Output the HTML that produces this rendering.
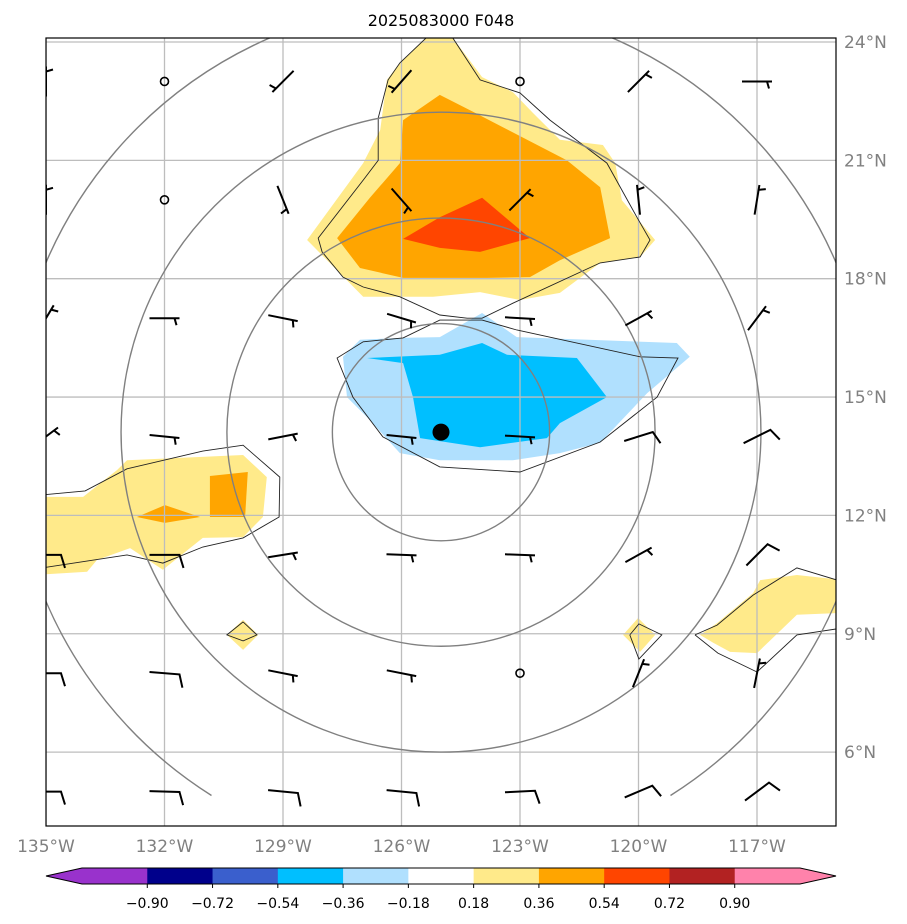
<!DOCTYPE html>
<html><head><meta charset="utf-8"><style>
html,body{margin:0;padding:0;background:#fff;}
svg{display:block;font-family:"DejaVu Sans","Liberation Sans",sans-serif;}
</style></head><body>
<svg id="chart" width="907" height="924" viewBox="0 0 907 924" xmlns="http://www.w3.org/2000/svg">
<defs><clipPath id="mapclip"><rect x="46" y="38" width="790" height="788"/></clipPath></defs>
<rect x="0" y="0" width="907" height="924" fill="#fff"/>
<text x="441" y="26" text-anchor="middle" font-size="16" fill="#000">2025083000 F048</text>
<g id="map" clip-path="url(#mapclip)"></g>
<rect x="46" y="38" width="790" height="788" fill="none" stroke="#000" stroke-width="1.2"/>
<g id="axes"></g>
<g id="cbar"></g>
</svg>
<script>
// ---- data ----
const lonTicks = [-135,-132,-129,-126,-123,-120,-117];
const lonLabels = ["135°W","132°W","129°W","126°W","123°W","120°W","117°W"];
const latTicks = [6,9,12,15,18,21,24];
const latLabels = ["6°N","9°N","12°N","15°N","18°N","21°N","24°N"];
const cbLevels = ["−0.90","−0.72","−0.54","−0.36","−0.18","0.18","0.36","0.54","0.72","0.90"];
const cbColors = ["#9932cc","#00008b","#3a5fcd","#00bfff","#b0e0fe","#ffffff","#ffea8a","#ffa500","#ff4500","#b22222","#ff82ab"];
const centerLon = -125.0, centerLat = 14.11;
const ringRadii = [2.75, 5.42, 8.1, 10.88];
const outerRingCutLat = 4.9;
const stationLons = [-135,-132,-129,-126,-123,-120,-117];
const stationLats = [23,20,17,14,11,8,5];
const windU = [
 [0,0,3.5,3.5,0,-3.5,-5],
 [0,0,-2,-3.5,-3.5,0.5,-0.8],
 [-3,-5,-5,-5,-5,-4.5,-3],
 [-4,-5,-5,-5,-5,-9.5,-9],
 [-10,-10,-5,-5,-5,-4.5,-7],
 [-10,-10,-5,-5,0,-2,-1],
 [-10,-10,-10,-10,-10,-9.5,-8]];
const windV = [
 [-5,0,3.5,4,0,-3.5,0],
 [-5,0,5,4,-3.5,-5,-5],
 [-5,0,1,1.5,0.3,-2.5,-4],
 [-3,0.5,-1,0.5,0.3,-3,-4.5],
 [0,0,-0.8,0.2,0.2,-2.5,-7],
 [0,0.8,1,1,0,-5,-5],
 [0,0.3,1,1,-0.5,-4,-6]];
const yellowTop = [[-125.35,24.13],[-124.72,24.13],[-123.96,23.11],[-123.18,22.73],[-122.67,22.2],[-121.99,21.52],[-120.9,21.39],[-120.59,20.93],[-120.42,19.99],[-119.58,18.98],[-119.96,18.55],[-120.97,18.4],[-121.99,17.64],[-123.0,17.46],[-124.01,17.66],[-125.2,17.54],[-126.97,17.54],[-128.39,18.98],[-126.97,20.93],[-126.54,21.77],[-126.37,23.04],[-126.04,23.47]];
const orangeTop = [[-125.03,22.66],[-124.19,22.23],[-121.81,21.0],[-120.97,20.32],[-120.72,19.03],[-121.99,18.47],[-122.75,18.04],[-123.84,18.02],[-125.96,18.02],[-127.05,18.27],[-127.63,19.03],[-126.8,20.05],[-126.04,20.93],[-125.96,22.02]];
const redTop = [[-125.96,19.01],[-125.03,19.56],[-123.96,20.05],[-122.75,19.03],[-124.01,18.68],[-125.03,18.78]];
const lightBlue = [[-127.05,16.45],[-126.04,16.5],[-125.03,16.52],[-123.96,17.13],[-123.08,16.52],[-119.03,16.37],[-118.7,16.02],[-119.78,15.1],[-120.97,13.84],[-121.99,13.58],[-123.18,13.4],[-125.03,13.4],[-126.04,13.58],[-126.87,14.49],[-127.38,15.0],[-127.48,16.02]];
const deepBlue = [[-126.87,15.99],[-125.03,16.07],[-123.96,16.37],[-123.33,16.07],[-121.56,15.99],[-120.8,15.0],[-121.99,14.34],[-122.32,13.96],[-124.01,13.73],[-125.53,13.96],[-125.71,15.0],[-125.96,15.86]];
const yellowLeft = [[-135.3,12.47],[-134.06,12.47],[-133.2,13.15],[-132.95,13.4],[-130.01,13.53],[-129.41,12.97],[-129.51,11.96],[-130.01,11.45],[-131.03,11.43],[-132.04,10.62],[-132.87,11.17],[-133.71,10.87],[-133.96,10.57],[-135.3,10.49]];
const orangeRect = [[-130.85,13.0],[-129.89,13.1],[-129.96,11.96],[-130.85,11.96]];
const orangeDiamond = [[-132.7,11.96],[-131.99,12.26],[-131.1,11.96],[-131.99,11.81]];
const yellowSmallL = [[-130.01,9.35],[-129.63,8.97],[-130.01,8.59],[-130.42,8.97]];
const yellowSmallR = [[-120.39,8.97],[-120.01,9.4],[-119.58,8.97],[-119.96,8.54]];
const yellowRight = [[-118.44,8.97],[-118.01,9.27],[-117.1,10.03],[-116.92,10.36],[-115.99,10.49],[-114.8,10.36],[-114.8,9.53],[-115.99,9.48],[-117.0,8.51],[-117.68,8.54],[-118.11,8.77]];
const outlineTop = [[-125.35,24.13],[-126.04,23.47],[-126.34,23.04],[-126.59,22.07],[-126.59,21.0],[-126.97,20.5],[-128.11,19.03],[-128.01,18.68],[-127.48,18.04],[-126.97,17.79],[-126.04,17.54],[-125.03,17.08],[-124.34,17.0],[-123.96,17.0],[-123.18,17.38],[-120.97,18.4],[-119.96,18.55],[-119.71,18.98],[-120.04,19.56],[-120.8,20.93],[-122.24,22.02],[-123.0,22.71],[-124.01,23.04],[-124.72,24.13]];
const outlineNeg = [[-123.96,16.95],[-123.08,16.7],[-119.96,16.02],[-119.0,15.99],[-119.53,15.0],[-120.97,13.86],[-123.0,13.1],[-125.03,13.23],[-126.47,13.99],[-127.23,15.0],[-127.63,15.99],[-126.97,16.4],[-125.96,16.5],[-125.03,16.95],[-123.96,16.95]];
const outlineLeft = [[-135.3,12.5],[-134.01,12.62],[-132.95,13.18],[-131.03,13.63],[-130.01,13.78],[-129.08,12.97],[-129.1,11.96],[-130.01,11.43],[-131.03,11.2],[-132.04,10.79],[-132.95,11.0],[-135.3,10.64]];
const outlineSmallL = [[-130.01,9.3],[-129.66,8.97],[-130.01,8.82],[-130.42,8.97],[-130.01,9.3]];
const outlineSmallR = [[-120.22,8.97],[-119.99,9.25],[-119.41,8.97],[-119.99,8.36],[-120.22,8.97]];
const outlineRightUp = [[-118.57,8.97],[-118.01,9.22],[-117.1,9.98],[-115.99,10.67],[-114.97,10.36]];
const outlineRightLow = [[-118.57,8.97],[-117.99,8.51],[-117.0,8.03],[-115.99,8.97],[-114.8,9.15]];

// ---- axis functions ----
const X = lon => 46 + (lon + 135) * 39.5;
const Y = lat => 42 + (24 - lat) * 39.45;
const NS = "http://www.w3.org/2000/svg";
function mk(tag, attrs, parent){const e=document.createElementNS(NS,tag);for(const k in attrs)e.setAttribute(k,attrs[k]);parent.appendChild(e);return e;}
const pts = arr => arr.map(p => X(p[0]).toFixed(1)+","+Y(p[1]).toFixed(1)).join(" ");
const map = document.getElementById("map");
const axes = document.getElementById("axes");
const cbar = document.getElementById("cbar");

const fills = [[yellowTop,"#ffea8a","fill-pos-018-north"],[orangeTop,"#ffa500","fill-pos-036-north"],[redTop,"#ff4500","fill-pos-054-north"],
 [lightBlue,"#b0e0fe","fill-neg-018-center"],[deepBlue,"#00bfff","fill-neg-036-center"],
 [yellowLeft,"#ffea8a","fill-pos-018-west"],[orangeRect,"#ffa500","fill-pos-036-west-a"],[orangeDiamond,"#ffa500","fill-pos-036-west-b"],
 [yellowSmallL,"#ffea8a","fill-pos-018-small-a"],[yellowSmallR,"#ffea8a","fill-pos-018-small-b"],[yellowRight,"#ffea8a","fill-pos-018-east"]];
fills.forEach(f=>{
  const e=mk("polygon",{points:pts(f[0]),fill:f[1],stroke:"none"},map);
  
  
});
lonTicks.forEach(l=>{
  const e=mk("line",{x1:X(l),x2:X(l),y1:38,y2:826,stroke:"#bdbdbd","stroke-width":1.3},map);
  
  
});
latTicks.forEach(l=>{
  const e=mk("line",{x1:46,x2:836,y1:Y(l),y2:Y(l),stroke:"#bdbdbd","stroke-width":1.3},map);
  
  
});
[outlineTop,outlineNeg,outlineLeft,outlineSmallL,outlineSmallR,outlineRightUp,outlineRightLow].forEach(o=>{
  const e=mk("polyline",{points:pts(o),fill:"none",stroke:"#222","stroke-width":0.9},map);
  
  
});
ringRadii.forEach((r,k)=>{
  const cx=X(centerLon), cy=Y(centerLat), R=r*39.5;
  let e;
  if(k===ringRadii.length-1){
    const yc=Y(outerRingCutLat), dy=yc-cy, dx=Math.sqrt(Math.max(R*R-dy*dy,0));
    e=mk("path",{d:`M${(cx+dx).toFixed(1)},${yc.toFixed(1)} A${R.toFixed(1)},${R.toFixed(1)} 0 1 0 ${(cx-dx).toFixed(1)},${yc.toFixed(1)}`,fill:"none",stroke:"#808080","stroke-width":1.4},map);
  } else {
    e=mk("circle",{cx:cx,cy:cy,r:R,fill:"none",stroke:"#808080","stroke-width":1.4},map);
  }
  
  
});
stationLats.forEach((la,i)=>stationLons.forEach((lo,j)=>{
  const u=windU[i][j], v=windV[i][j];
  const cx=X(lo), cy=Y(la), sp=Math.hypot(u,v);
  if(sp<1){
    const e=mk("circle",{cx:cx,cy:cy,r:4,fill:"none",stroke:"#000","stroke-width":1.6},map);
    
    
    return;
  }
  const dx=-u/sp, dy=v/sp, L=15;
  const tx=cx+dx*L, ty=cy+dy*L;
  const px=-dy, py=dx;
  let d="M"+(cx-dx*L).toFixed(1)+","+(cy-dy*L).toFixed(1)+" L"+tx.toFixed(1)+","+ty.toFixed(1);
  if(sp>=7.5){ d+=" L"+(tx+px*13+dx*4).toFixed(1)+","+(ty+py*13+dy*4).toFixed(1); }
  else { const bx=tx-dx*5, by=ty-dy*5; d+=" M"+bx.toFixed(1)+","+by.toFixed(1)+" L"+(bx+px*7+dx*2).toFixed(1)+","+(by+py*7+dy*2).toFixed(1); }
  const e=mk("path",{d:d,fill:"none",stroke:"#000","stroke-width":2,"stroke-linejoin":"miter"},map);
  
  
}));
const cm=mk("circle",{cx:X(centerLon),cy:Y(centerLat),r:8.5,fill:"#000"},map);


lonTicks.forEach((l,k)=>{
  const e=mk("text",{x:X(l),y:852,"text-anchor":"middle","font-size":17,fill:"#808080"},axes);
  e.textContent=lonLabels[k];
  
  
});
latTicks.forEach((l,k)=>{
  const e=mk("text",{x:844,y:Y(l)+6,"text-anchor":"start","font-size":17,fill:"#808080"},axes);
  e.textContent=latLabels[k];
  
  
});
const cx0=82, cw=(800-82)/11, cy0=868, ch=16;
const lt=mk("polygon",{points:`46,${cy0+ch/2} ${cx0},${cy0} ${cx0},${cy0+ch}`,fill:cbColors[0]},cbar);


const rt=mk("polygon",{points:`836,${cy0+ch/2} 800,${cy0} 800,${cy0+ch}`,fill:cbColors[10]},cbar);


cbColors.forEach((c,k)=>{
  const e=mk("rect",{x:cx0+k*cw,y:cy0,width:cw+0.5,height:ch,fill:c},cbar);
  
  
});
const ol=mk("polygon",{points:`46,${cy0+ch/2} ${cx0},${cy0} 800,${cy0} 836,${cy0+ch/2} 800,${cy0+ch} ${cx0},${cy0+ch}`,fill:"none",stroke:"#000","stroke-width":1},cbar);


cbLevels.forEach((t,k)=>{
  const x=cx0+(k+1)*cw;
  const tk=mk("line",{x1:x,x2:x,y1:cy0+ch,y2:cy0+ch+4,stroke:"#000","stroke-width":1},cbar);
  
  
  const e=mk("text",{x:x,y:908,"text-anchor":"middle","font-size":14,fill:"#000"},cbar);
  e.textContent=t;
  
  
});
</script>
</body></html>
